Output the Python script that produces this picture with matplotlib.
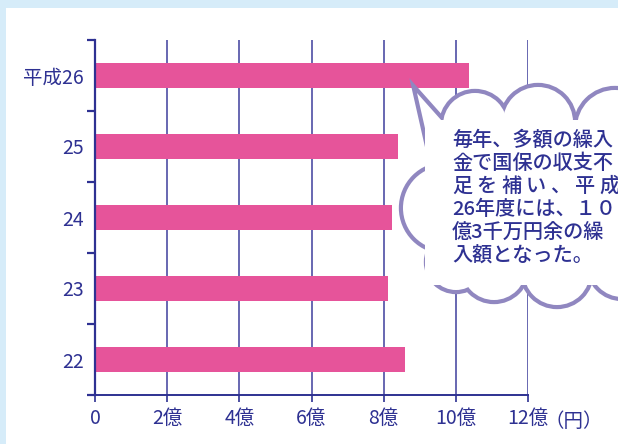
import matplotlib
matplotlib.use("Agg")
import matplotlib.pyplot as plt
from matplotlib.patches import Rectangle, Circle, Polygon

plt.rcParams['font.family'] = ['Noto Sans CJK JP', 'DejaVu Sans']

# =====================================
# Data
# =====================================

years = ["22", "23", "24", "25", "平成26"]
values = [8.58, 8.11, 8.22, 8.39, 10.36]   # 億円

x_ticks = [0, 2, 4, 6, 8, 10, 12]
x_labels = ["0", "2億", "4億", "6億", "8億", "10億", "12億"]

note_lines = [
    "毎年、多額の繰入",
    "金で国保の収支不",
    "足を補い、平成",
    "26年度には、１０",
    "億3千万円余の繰",
    "入額となった。",
]

navy = "#2e3192"
grid_c = "#3f3f9c"
pink = "#e6549a"
cloud_c = "#9087c0"

# =====================================
# Figure
# =====================================

fig = plt.figure(figsize=(6.18, 4.44), dpi=100)
fig.patch.set_facecolor("#d6ecf9")
fig.patches.append(Rectangle((6 / 618, 0), 1, (444 - 8) / 444,
                             transform=fig.transFigure, facecolor="white",
                             edgecolor="none", zorder=-5))

ax = fig.add_axes([95 / 618, 49 / 444, 433 / 618, 355 / 444])
ax.set_facecolor("none")
ax.set_zorder(1)

pos = list(range(len(years)))
ax.barh(pos, values, height=0.34, color=pink, zorder=2)

ax.set_xlim(0, 12)
ax.set_ylim(-0.5, len(years) - 0.5)

for x in x_ticks[1:]:
    ax.axvline(x, color=grid_c, lw=1.1, zorder=1)

for s in ["top", "right"]:
    ax.spines[s].set_visible(False)
ax.spines["left"].set_color(navy)
ax.spines["left"].set_linewidth(1.6)
ax.spines["bottom"].set_color(navy)
ax.spines["bottom"].set_linewidth(1.4)

ax.set_xticks(x_ticks)
ax.set_xticklabels(x_labels)
ax.tick_params(axis="x", direction="out", length=5, width=1.2, color=navy,
               labelcolor=navy, labelsize=14, pad=4)

ax.set_yticks(pos)
ax.set_yticklabels(years)
ax.set_yticks([p - 0.5 for p in pos] + [len(years) - 0.5], minor=True)
ax.tick_params(axis="y", which="major", length=0, labelcolor=navy,
               labelsize=14, pad=8)
ax.tick_params(axis="y", which="minor", direction="out", length=6,
               width=1.6, color=navy)

ax.annotate("（円）", xy=(12, 0), xycoords=("data", "axes fraction"),
            xytext=(12, -19), textcoords="offset points",
            ha="left", va="center", color=navy, fontsize=14,
            annotation_clip=False)

# =====================================
# Speech cloud (figure pixel space)
# =====================================

ov = fig.add_axes([0, 0, 1, 1])
ov.set_xlim(0, 618)
ov.set_ylim(444, 0)
ov.axis("off")
ov.set_zorder(5)

bumps = [
    (475, 125, 32), (538, 122, 35), (615, 128, 38),
    (445, 208, 42), (456, 262, 28),
    (494, 268, 32), (557, 272, 33), (622, 265, 32),
]
tail = [(417, 93), (450, 130), (434, 168)]
body = (425, 120, 215, 165)

lw = 6
for cx, cy, r in bumps:
    ov.add_patch(Circle((cx, cy), r, facecolor="white", edgecolor=cloud_c,
                        lw=lw, zorder=1))
ov.add_patch(Polygon(tail, closed=True, facecolor="white", edgecolor=cloud_c,
                     lw=lw, joinstyle="miter", zorder=1))
for cx, cy, r in bumps:
    ov.add_patch(Circle((cx, cy), r, facecolor="white", edgecolor="none",
                        zorder=2))
ov.add_patch(Polygon(tail, closed=True, facecolor="white", edgecolor="none",
                     zorder=2))
ov.add_patch(Rectangle(body[:2], body[2], body[3], facecolor="white",
                       edgecolor="none", zorder=2))

line_y = [140, 163, 186, 209, 232, 256]
for i, line in enumerate(note_lines):
    if i == 2:
        for j, ch in enumerate(line):
            ov.text(452 + j * 24.5, line_y[i], ch, color=navy, fontsize=14.5,
                    fontweight="medium", ha="left", va="center", zorder=3)
    else:
        ov.text(452, line_y[i], line, color=navy, fontsize=14.5,
                fontweight="medium", ha="left", va="center", zorder=3)

fig.savefig("out.png", dpi=100, facecolor=fig.get_facecolor())
